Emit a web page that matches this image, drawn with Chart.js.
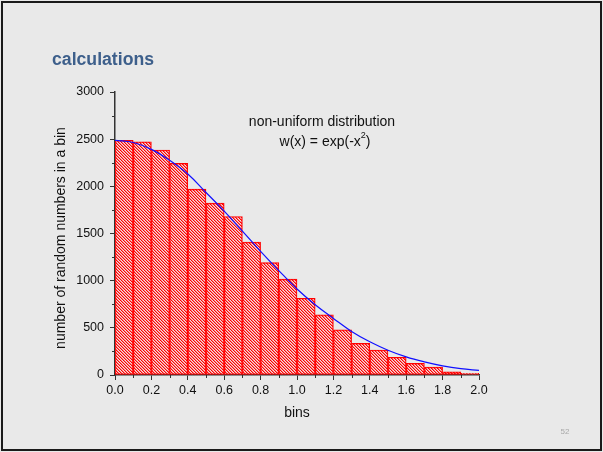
<!DOCTYPE html>
<html>
<head>
<meta charset="utf-8">
<script src="https://cdn.jsdelivr.net/npm/chart.js@4.4.1/dist/chart.umd.min.js"></script>
<style>
  html, body { margin: 0; padding: 0; background: #e9e9e9; }
  #frame { position: absolute; left: 1px; top: 1px; width: 601px; height: 450px; box-sizing: border-box; border: 2px solid #1a1a1a; }
  #c { position: absolute; left: 0; top: 0; }
</style>
</head>
<body>
<div id="frame"></div>
<canvas id="c" width="603" height="452"></canvas>
<script>
// ---- data ----
const binCenters = [0.05, 0.15, 0.25, 0.35, 0.45, 0.55, 0.65, 0.75, 0.85, 0.95,
                    1.05, 1.15, 1.25, 1.35, 1.45, 1.55, 1.65, 1.75, 1.85, 1.95];
const binCounts  = [2487, 2473, 2385, 2243, 1971, 1822, 1680, 1408, 1192, 1016,
                    814, 637, 478, 336, 265, 188, 124, 84, 33, 18];
const curveX = [0.0, 0.1, 0.2, 0.3, 0.4, 0.5, 0.6, 0.7, 0.8, 0.9, 1.0,
                1.1, 1.2, 1.3, 1.4, 1.5, 1.6, 1.7, 1.8, 1.9, 2.0];
const curveY = [2488, 2465, 2392, 2276, 2130, 1935, 1737, 1525, 1311, 1107, 912,
                745, 600, 462, 352, 263, 192, 139, 97, 67, 48];
const titleText = "calculations";
const xTitle = "bins";
const yTitle = "number of random numbers in a bin";
const noteLine1 = "non-uniform distribution";
const noteLine2a = "w(x) = exp(-x";
const noteLine2sup = "2";
const noteLine2b = ")";
const pageNumber = "52";

// ---- hatch pattern ----
function makeHatch() {
  const n = 3;
  const t = document.createElement('canvas');
  t.width = n; t.height = n;
  const g = t.getContext('2d');
  const img = g.createImageData(n, n);
  for (let r = 0; r < n; r++) {
    for (let c = 0; c < n; c++) {
      const idx = (r * n + c) * 4;
      const d = ((c - r) % n + n) % n;
      if (d === 0) { img.data[idx] = 255; img.data[idx+1] = 0; img.data[idx+2] = 0; img.data[idx+3] = 255; }
      else if (d === 1) { img.data[idx] = 255; img.data[idx+1] = 60; img.data[idx+2] = 60; img.data[idx+3] = 150; }
      else { img.data[idx] = 250; img.data[idx+1] = 215; img.data[idx+2] = 215; img.data[idx+3] = 160; }
    }
  }
  g.putImageData(img, 0, 0);
  return document.getElementById('c').getContext('2d').createPattern(t, 'repeat');
}
const hatch = makeHatch();

const FONT = "'Liberation Sans', Arial, sans-serif";

const decor = {
  id: 'decor',
  afterDraw(chart) {
    const ctx = chart.ctx;
    const xs = chart.scales.x, ys = chart.scales.y;
    ctx.save();
    // minor ticks
    ctx.strokeStyle = '#333';
    ctx.lineWidth = 1;
    const y0 = ys.getPixelForValue(0);
    for (let v = 0.1; v < 2.0; v += 0.2) {
      const px = Math.round(xs.getPixelForValue(v)) + 0.5;
      ctx.beginPath(); ctx.moveTo(px, y0); ctx.lineTo(px, y0 + 3); ctx.stroke();
    }
    const x0 = xs.getPixelForValue(0);
    for (let v = 250; v < 3000; v += 500) {
      const py = Math.round(ys.getPixelForValue(v)) + 0.5;
      ctx.beginPath(); ctx.moveTo(x0, py); ctx.lineTo(x0 - 3, py); ctx.stroke();
    }
    // title
    ctx.fillStyle = '#3d5f8b';
    ctx.font = "bold 18px " + FONT;
    ctx.textBaseline = 'alphabetic';
    ctx.textAlign = 'left';
    const tw = ctx.measureText(titleText).width;
    ctx.save();
    ctx.translate(52, 65);
    ctx.scale(102 / tw, 1);
    ctx.fillText(titleText, 0, 0);
    ctx.restore();
    // axis titles
    ctx.fillStyle = '#111';
    ctx.font = "14px " + FONT;
    ctx.textAlign = 'center';
    ctx.textBaseline = 'middle';
    ctx.fillText(xTitle, 297, 413);
    ctx.save();
    ctx.translate(61, 238);
    ctx.rotate(-Math.PI / 2);
    ctx.fillText(yTitle, 0, 0);
    ctx.restore();
    // annotation
    ctx.fillText(noteLine1, 322, 122);
    const wa = ctx.measureText(noteLine2a).width;
    const wb = ctx.measureText(noteLine2b).width;
    ctx.font = "9px " + FONT;
    const ws = ctx.measureText(noteLine2sup).width;
    const total = wa + ws + wb;
    let sx = 325 - total / 2;
    ctx.textAlign = 'left';
    ctx.font = "14px " + FONT;
    ctx.fillText(noteLine2a, sx, 142);
    ctx.font = "9px " + FONT;
    ctx.fillText(noteLine2sup, sx + wa, 136);
    ctx.font = "14px " + FONT;
    ctx.fillText(noteLine2b, sx + wa + ws, 142);
    // page number
    ctx.fillStyle = '#a8a8a8';
    ctx.font = "8px " + FONT;
    ctx.textAlign = 'center';
    ctx.fillText(pageNumber, 565, 432);
    ctx.restore();
  }
};

new Chart(document.getElementById('c'), {
  type: 'bar',
  data: {
    datasets: [
      {
        type: 'line',
        data: curveX.map((x, i) => ({ x: x, y: curveY[i] })),
        borderColor: '#1010ff',
        borderWidth: 1.2,
        pointRadius: 0,
        tension: 0.4,
        fill: false,
        order: 0
      },
      {
        type: 'bar',
        data: binCenters.map((x, i) => ({ x: x, y: binCounts[i] })),
        backgroundColor: hatch,
        borderColor: '#ff0000',
        borderWidth: 1,
        borderSkipped: false,
        barPercentage: 1,
        categoryPercentage: 1,
        grouped: false,
        order: 1
      }
    ]
  },
  options: {
    responsive: false,
    animation: false,
    events: [],
    layout: { padding: { left: 55, top: 92, right: 124, bottom: 27 } },
    plugins: { legend: { display: false }, tooltip: { enabled: false } },
    scales: {
      x: {
        type: 'linear', min: 0, max: 2, offset: false,
        ticks: { stepSize: 0.2, callback: v => v.toFixed(1), color: '#111', font: { size: 12.5, family: FONT }, padding: 3, maxRotation: 0 },
        grid: { display: true, drawOnChartArea: false, drawTicks: true, tickLength: 5, color: '#333', offset: false },
        border: { display: true, color: '#333', width: 1.5 },
        afterFit: s => { s.height = 50; }
      },
      y: {
        min: 0, max: 3000,
        ticks: { stepSize: 500, callback: v => String(v), color: '#111', font: { size: 12.5, family: FONT }, padding: 6 },
        grid: { display: true, drawOnChartArea: false, drawTicks: true, tickLength: 5, color: '#333' },
        border: { display: true, color: '#333', width: 1.5 },
        afterFit: s => { s.width = 60; }
      }
    }
  },
  plugins: [decor]
});
</script>
</body>
</html>
